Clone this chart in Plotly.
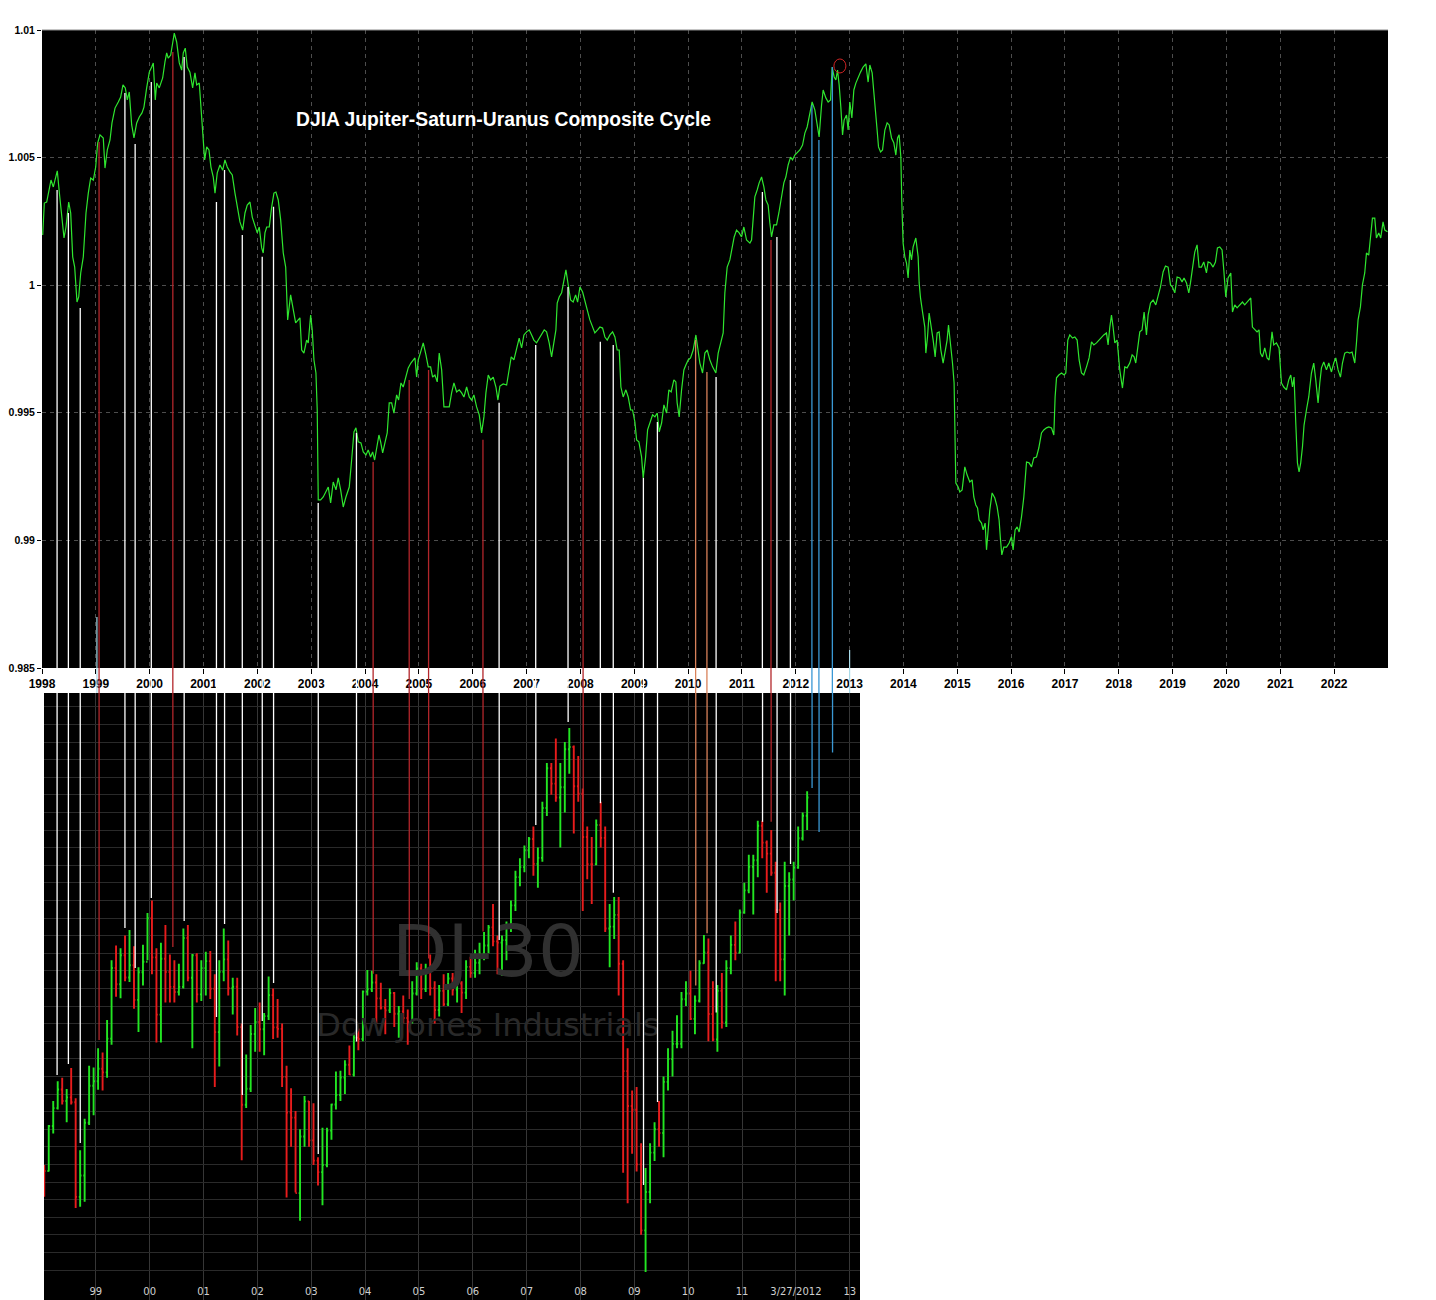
import plotly.graph_objects as go

W, H = 1436, 1300
OFF = 8  # the page body adds an 8px margin; layout positions are shifted to compensate

# ---- top panel: composite cycle, decimal year / index value ----
cycle_year = [
    1998.013, 1998.043, 1998.087, 1998.136, 1998.167, 1998.210, 1998.247, 1998.284, 1998.321, 1998.366,
    1998.409, 1998.446, 1998.496, 1998.533, 1998.570, 1998.607, 1998.650, 1998.682, 1998.719, 1998.767,
    1998.817, 1998.860, 1998.904, 1998.953, 1998.997, 1999.034, 1999.077, 1999.138, 1999.170, 1999.213,
    1999.263, 1999.300, 1999.356, 1999.417, 1999.461, 1999.504, 1999.547, 1999.584, 1999.621, 1999.666,
    1999.708, 1999.759, 1999.807, 1999.857, 1999.894, 1999.944, 1999.993, 2000.037, 2000.067, 2000.104,
    2000.130, 2000.178, 2000.241, 2000.284, 2000.316, 2000.345, 2000.390, 2000.427, 2000.457, 2000.501,
    2000.550, 2000.594, 2000.624, 2000.661, 2000.698, 2000.748, 2000.798, 2000.841, 2000.873, 2000.921,
    2000.953, 2000.995, 2001.021, 2001.059, 2001.101, 2001.138, 2001.181, 2001.213, 2001.255, 2001.305,
    2001.356, 2001.398, 2001.441, 2001.491, 2001.534, 2001.584, 2001.627, 2001.677, 2001.727, 2001.770,
    2001.812, 2001.863, 2001.905, 2001.955, 2001.998, 2002.035, 2002.080, 2002.109, 2002.141, 2002.173,
    2002.221, 2002.266, 2002.308, 2002.345, 2002.388, 2002.433, 2002.481, 2002.526, 2002.563, 2002.618,
    2002.667, 2002.711, 2002.791, 2002.823, 2002.865, 2002.915, 2002.945, 2002.990, 2003.019, 2003.051,
    2003.088, 2003.112, 2003.131, 2003.175, 2003.224, 2003.287, 2003.317, 2003.361, 2003.409, 2003.460,
    2003.502, 2003.547, 2003.595, 2003.645, 2003.707, 2003.751, 2003.794, 2003.831, 2003.874, 2003.924,
    2003.967, 2004.017, 2004.059, 2004.104, 2004.141, 2004.178, 2004.215, 2004.258, 2004.290, 2004.327,
    2004.369, 2004.412, 2004.449, 2004.494, 2004.537, 2004.587, 2004.624, 2004.667, 2004.709, 2004.760,
    2004.802, 2004.852, 2004.895, 2004.927, 2004.958, 2004.988, 2005.032, 2005.081, 2005.131, 2005.174,
    2005.218, 2005.255, 2005.298, 2005.341, 2005.378, 2005.423, 2005.465, 2005.564, 2005.608, 2005.651,
    2005.701, 2005.749, 2005.794, 2005.837, 2005.887, 2005.935, 2005.980, 2006.022, 2006.072, 2006.121,
    2006.165, 2006.208, 2006.245, 2006.288, 2006.332, 2006.381, 2006.431, 2006.468, 2006.505, 2006.566,
    2006.630, 2006.672, 2006.715, 2006.765, 2006.815, 2006.863, 2006.908, 2006.951, 2007.001, 2007.049,
    2007.094, 2007.136, 2007.186, 2007.235, 2007.279, 2007.328, 2007.372, 2007.420, 2007.465, 2007.508,
    2007.545, 2007.569, 2007.606, 2007.651, 2007.694, 2007.731, 2007.774, 2007.818, 2007.866, 2007.911,
    2007.948, 2007.991, 2008.041, 2008.084, 2008.127, 2008.176, 2008.226, 2008.269, 2008.319, 2008.362,
    2008.412, 2008.455, 2008.498, 2008.548, 2008.598, 2008.641, 2008.683, 2008.721, 2008.752, 2008.795,
    2008.845, 2008.888, 2008.932, 2008.969, 2009.012, 2009.044, 2009.086, 2009.136, 2009.166, 2009.211,
    2009.248, 2009.291, 2009.341, 2009.384, 2009.427, 2009.464, 2009.508, 2009.551, 2009.601, 2009.643,
    2009.686, 2009.736, 2009.773, 2009.797, 2009.835, 2009.879, 2009.922, 2009.959, 2010.002, 2010.046,
    2010.095, 2010.145, 2010.188, 2010.219, 2010.269, 2010.312, 2010.355, 2010.405, 2010.455, 2010.516,
    2010.559, 2010.604, 2010.652, 2010.683, 2010.726, 2010.776, 2010.819, 2010.856, 2010.900, 2010.949,
    2010.993, 2011.036, 2011.086, 2011.148, 2011.179, 2011.209, 2011.240, 2011.283, 2011.320, 2011.365,
    2011.408, 2011.445, 2011.487, 2011.519, 2011.550, 2011.593, 2011.643, 2011.686, 2011.736, 2011.779,
    2011.816, 2011.859, 2011.903, 2011.940, 2011.983, 2012.044, 2012.076, 2012.126, 2012.169, 2012.212,
    2012.262, 2012.304, 2012.354, 2012.397, 2012.434, 2012.479, 2012.509, 2012.559, 2012.602, 2012.646,
    2012.676, 2012.713, 2012.745, 2012.776, 2012.806, 2012.837, 2012.869, 2012.898, 2012.943, 2012.973,
    2013.004, 2013.042, 2013.079, 2013.116, 2013.159, 2013.203, 2013.251, 2013.302, 2013.344, 2013.376,
    2013.419, 2013.450, 2013.482, 2013.511, 2013.537, 2013.575, 2013.612, 2013.655, 2013.697, 2013.735,
    2013.779, 2013.822, 2013.859, 2013.891, 2013.920, 2013.952, 2013.970, 2013.994, 2014.026, 2014.057,
    2014.087, 2014.119, 2014.150, 2014.180, 2014.230, 2014.273, 2014.292, 2014.317, 2014.355, 2014.397,
    2014.416, 2014.447, 2014.477, 2014.522, 2014.552, 2014.589, 2014.626, 2014.663, 2014.695, 2014.737,
    2014.774, 2014.811, 2014.837, 2014.874, 2014.911, 2014.941, 2014.960, 2014.973, 2015.016, 2015.047,
    2015.090, 2015.140, 2015.183, 2015.233, 2015.276, 2015.307, 2015.344, 2015.376, 2015.406, 2015.450,
    2015.480, 2015.517, 2015.543, 2015.573, 2015.604, 2015.647, 2015.697, 2015.740, 2015.777, 2015.803,
    2015.827, 2015.864, 2015.915, 2015.963, 2016.007, 2016.037, 2016.074, 2016.112, 2016.149, 2016.193,
    2016.236, 2016.286, 2016.334, 2016.379, 2016.421, 2016.471, 2016.514, 2016.564, 2016.607, 2016.657,
    2016.700, 2016.750, 2016.793, 2016.817, 2016.843, 2016.886, 2016.936, 2016.984, 2017.016, 2017.053,
    2017.090, 2017.140, 2017.183, 2017.226, 2017.263, 2017.307, 2017.350, 2017.400, 2017.448, 2017.493,
    2017.536, 2017.586, 2017.634, 2017.679, 2017.721, 2017.771, 2017.801, 2017.833, 2017.864, 2017.894,
    2017.926, 2017.968, 2018.018, 2018.068, 2018.111, 2018.154, 2018.204, 2018.247, 2018.284, 2018.315,
    2018.358, 2018.390, 2018.432, 2018.470, 2018.514, 2018.544, 2018.589, 2018.637, 2018.687, 2018.730,
    2018.774, 2018.823, 2018.867, 2018.916, 2018.960, 2018.997, 2019.040, 2019.083, 2019.133, 2019.175,
    2019.212, 2019.257, 2019.300, 2019.331, 2019.368, 2019.411, 2019.454, 2019.491, 2019.535, 2019.578,
    2019.628, 2019.658, 2019.702, 2019.751, 2019.795, 2019.832, 2019.875, 2019.918, 2019.950, 2019.987,
    2020.029, 2020.080, 2020.111, 2020.154, 2020.197, 2020.247, 2020.297, 2020.339, 2020.382, 2020.419,
    2020.451, 2020.482, 2020.525, 2020.568, 2020.605, 2020.631, 2020.668, 2020.711, 2020.754, 2020.791,
    2020.822, 2020.846, 2020.878, 2020.928, 2020.977, 2021.021, 2021.064, 2021.114, 2021.157, 2021.194,
    2021.226, 2021.255, 2021.287, 2021.318, 2021.348, 2021.379, 2021.411, 2021.441, 2021.485, 2021.528,
    2021.578, 2021.621, 2021.658, 2021.701, 2021.733, 2021.764, 2021.807, 2021.857, 2021.900, 2021.950,
    2021.993, 2022.030, 2022.073, 2022.117, 2022.154, 2022.197, 2022.240, 2022.290, 2022.333, 2022.383,
    2022.414, 2022.444, 2022.488, 2022.525, 2022.568, 2022.600, 2022.642, 2022.674, 2022.711, 2022.754,
    2022.785, 2022.828, 2022.865, 2022.908, 2022.940, 2022.990,
]
cycle_value = [
    1.00197, 1.00322, 1.00326, 1.00373, 1.00412, 1.00385, 1.00424, 1.00448, 1.00365, 1.00283,
    1.00185, 1.00228, 1.00326, 1.00283, 1.00111, 1.00071, 0.99934, 0.99954, 1.00048, 1.00111,
    1.00283, 1.00361, 1.00420, 1.00412, 1.00463, 1.00557, 1.00589, 1.00577, 1.00459, 1.00530,
    1.00569, 1.00636, 1.00694, 1.00718, 1.00737, 1.00785, 1.00773, 1.00726, 1.00757, 1.00628,
    1.00577, 1.00636, 1.00659, 1.00675, 1.00698, 1.00773, 1.00835, 1.00855, 1.00871, 1.00726,
    1.00792, 1.00773, 1.00812, 1.00875, 1.00910, 1.00890, 1.00902, 1.00949, 1.00988, 1.00953,
    1.00871, 1.00843, 1.00910, 1.00929, 1.00855, 1.00835, 1.00773, 1.00832, 1.00785, 1.00792,
    1.00698, 1.00569, 1.00491, 1.00542, 1.00530, 1.00463, 1.00424, 1.00361, 1.00440, 1.00471,
    1.00451, 1.00491, 1.00463, 1.00444, 1.00432, 1.00361, 1.00307, 1.00248, 1.00216, 1.00283,
    1.00314, 1.00326, 1.00267, 1.00228, 1.00205, 1.00228, 1.00146, 1.00126, 1.00205, 1.00228,
    1.00228, 1.00307, 1.00361, 1.00365, 1.00334, 1.00256, 1.00126, 1.00071, 0.99864, 0.99962,
    0.99903, 0.99852, 0.99872, 0.99746, 0.99734, 0.99785, 0.99774, 0.99883, 0.99825, 0.99707,
    0.99656, 0.99511, 0.99159, 0.99159, 0.99170, 0.99198, 0.99209, 0.99147, 0.99229, 0.99198,
    0.99245, 0.99198, 0.99131, 0.99170, 0.99209, 0.99315, 0.99425, 0.99441, 0.99386, 0.99382,
    0.99347, 0.99335, 0.99354, 0.99327, 0.99347, 0.99315, 0.99366, 0.99413, 0.99386, 0.99343,
    0.99382, 0.99421, 0.99539, 0.99539, 0.99499, 0.99570, 0.99550, 0.99617, 0.99601, 0.99640,
    0.99676, 0.99695, 0.99707, 0.99715, 0.99640, 0.99707, 0.99738, 0.99774, 0.99727, 0.99680,
    0.99680, 0.99640, 0.99648, 0.99621, 0.99734, 0.99668, 0.99523, 0.99523, 0.99578, 0.99617,
    0.99582, 0.99590, 0.99578, 0.99562, 0.99601, 0.99562, 0.99550, 0.99570, 0.99523, 0.99492,
    0.99421, 0.99484, 0.99578, 0.99648, 0.99629, 0.99640, 0.99601, 0.99550, 0.99605, 0.99613,
    0.99609, 0.99668, 0.99719, 0.99707, 0.99758, 0.99793, 0.99754, 0.99805, 0.99817, 0.99825,
    0.99805, 0.99785, 0.99774, 0.99793, 0.99805, 0.99825, 0.99817, 0.99774, 0.99719, 0.99785,
    0.99825, 0.99930, 0.99954, 0.99970, 1.00021, 1.00060, 1.00001, 0.99942, 0.99934, 0.99962,
    0.99934, 0.99993, 0.99973, 0.99942, 0.99903, 0.99864, 0.99836, 0.99813, 0.99825, 0.99836,
    0.99832, 0.99797, 0.99785, 0.99805, 0.99817, 0.99797, 0.99746, 0.99746, 0.99601, 0.99562,
    0.99590, 0.99562, 0.99511, 0.99511, 0.99464, 0.99394, 0.99386, 0.99327, 0.99245, 0.99327,
    0.99433, 0.99464, 0.99492, 0.99484, 0.99499, 0.99425, 0.99460, 0.99531, 0.99499, 0.99590,
    0.99582, 0.99629, 0.99621, 0.99539, 0.99484, 0.99590, 0.99668, 0.99687, 0.99707, 0.99715,
    0.99746, 0.99805, 0.99746, 0.99695, 0.99656, 0.99734, 0.99746, 0.99707, 0.99680, 0.99656,
    0.99734, 0.99774, 0.99813, 0.99970, 1.00071, 1.00099, 1.00150, 1.00189, 1.00216, 1.00205,
    1.00189, 1.00228, 1.00177, 1.00165, 1.00177, 1.00267, 1.00346, 1.00373, 1.00401, 1.00424,
    1.00385, 1.00334, 1.00314, 1.00244, 1.00189, 1.00236, 1.00236, 1.00283, 1.00342, 1.00401,
    1.00424, 1.00471, 1.00502, 1.00491, 1.00510, 1.00522, 1.00530, 1.00549, 1.00596, 1.00620,
    1.00675, 1.00718, 1.00687, 1.00620, 1.00581, 1.00706, 1.00765, 1.00734, 1.00718, 1.00726,
    1.00855, 1.00816, 1.00804, 1.00843, 1.00785, 1.00698, 1.00589, 1.00647, 1.00667, 1.00608,
    1.00718, 1.00655, 1.00765, 1.00792, 1.00816, 1.00835, 1.00855, 1.00867, 1.00796, 1.00863,
    1.00832, 1.00765, 1.00694, 1.00608, 1.00542, 1.00522, 1.00530, 1.00608, 1.00636, 1.00628,
    1.00577, 1.00557, 1.00510, 1.00577, 1.00589, 1.00502, 1.00322, 1.00165, 1.00111, 1.00087,
    1.00028, 1.00138, 1.00099, 1.00150, 1.00185, 1.00111, 1.00009, 0.99950, 0.99895, 0.99836,
    0.99734, 0.99797, 0.99891, 0.99836, 0.99785, 0.99719, 0.99813, 0.99817, 0.99746, 0.99695,
    0.99734, 0.99785, 0.99844, 0.99774, 0.99695, 0.99617, 0.99421, 0.99225, 0.99209, 0.99190,
    0.99198, 0.99288, 0.99256, 0.99229, 0.99237, 0.99170, 0.99139, 0.99127, 0.99080, 0.99068,
    0.99041, 0.99068, 0.98963, 0.99041, 0.99119, 0.99186, 0.99166, 0.99131, 0.99080, 0.99002,
    0.98943, 0.98974, 0.98974, 0.98990, 0.99014, 0.98963, 0.99041, 0.99053, 0.99033, 0.99092,
    0.99170, 0.99307, 0.99304, 0.99288, 0.99323, 0.99327, 0.99362, 0.99421, 0.99433, 0.99441,
    0.99445, 0.99441, 0.99413, 0.99562, 0.99637, 0.99648, 0.99656, 0.99648, 0.99656, 0.99785,
    0.99805, 0.99793, 0.99797, 0.99785, 0.99707, 0.99656, 0.99648, 0.99680, 0.99715, 0.99778,
    0.99766, 0.99774, 0.99785, 0.99797, 0.99805, 0.99813, 0.99766, 0.99836, 0.99883, 0.99836,
    0.99774, 0.99785, 0.99668, 0.99597, 0.99680, 0.99676, 0.99695, 0.99727, 0.99719, 0.99695,
    0.99754, 0.99817, 0.99825, 0.99895, 0.99805, 0.99883, 0.99930, 0.99942, 0.99923, 0.99954,
    0.99993, 1.00052, 1.00075, 1.00071, 1.00001, 0.99993, 0.99970, 1.00032, 1.00028, 1.00013,
    1.00028, 1.00009, 0.99970, 1.00009, 1.00060, 1.00130, 1.00158, 1.00071, 1.00071, 1.00091,
    1.00048, 1.00091, 1.00087, 1.00071, 1.00091, 1.00146, 1.00150, 1.00138, 1.00060, 0.99954,
    1.00028, 1.00048, 0.99895, 0.99923, 0.99911, 0.99923, 0.99934, 0.99923, 0.99934, 0.99942,
    0.99950, 0.99836, 0.99825, 0.99817, 0.99825, 0.99734, 0.99719, 0.99754, 0.99715, 0.99707,
    0.99766, 0.99817, 0.99766, 0.99774, 0.99754, 0.99617, 0.99601, 0.99590, 0.99629, 0.99648,
    0.99601, 0.99640, 0.99460, 0.99304, 0.99268, 0.99304, 0.99366, 0.99452, 0.99511, 0.99562,
    0.99656, 0.99695, 0.99629, 0.99539, 0.99617, 0.99676, 0.99699, 0.99668, 0.99695, 0.99660,
    0.99695, 0.99715, 0.99668, 0.99640, 0.99695, 0.99734, 0.99738, 0.99734, 0.99738, 0.99695,
    0.99774, 0.99864, 0.99915, 1.00001, 1.00048, 1.00126, 1.00118, 1.00177, 1.00263, 1.00263,
    1.00185, 1.00205, 1.00185, 1.00248, 1.00216, 1.00209,
]

# ---- bottom panel: DJIA monthly bars, Jan 1998 .. Mar 2012 ----
dj_open = [
    7908, 7907, 8546, 8800, 9063, 8900, 8952, 8883, 7539, 7843, 8592, 9117,
    9181, 9359, 9307, 9786, 10789, 10560, 10971, 10655, 10829, 10337, 10730, 10878,
    11497, 10941, 10128, 10922, 10734, 10522, 10448, 10522, 11215, 10651, 10971, 10415,
    10788, 10887, 10495, 9879, 10735, 10912, 10502, 10523, 9950, 8848, 9075, 9852,
    10022, 9920, 10106, 10404, 9946, 9925, 9243, 8737, 8664, 7592, 8397, 8896,
    8342, 8054, 7891, 7992, 8480, 8850, 8985, 9234, 9416, 9275, 9801, 9782,
    10454, 10488, 10584, 10358, 10226, 10188, 10435, 10140, 10174, 10080, 10027, 10428,
    10783, 10490, 10766, 10504, 10193, 10467, 10275, 10641, 10482, 10569, 10440, 10806,
    10718, 10865, 10993, 11109, 11367, 11168, 11150, 11186, 11381, 11679, 12081, 12222,
    12463, 12622, 12269, 12354, 13063, 13628, 13409, 13212, 13358, 13896, 13930, 13372,
    13265, 12650, 12266, 12263, 12820, 12638, 11350, 11378, 11544, 10851, 9325, 8829,
    8776, 8001, 7063, 7609, 8168, 8500, 8447, 9172, 9496, 9712, 9713, 10345,
    10428, 10067, 10325, 10857, 11009, 10137, 9774, 10466, 10015, 10788, 11118, 11006,
    11578, 11892, 12226, 12320, 12811, 12570, 12414, 12143, 11614, 10913, 11955, 12046,
    12218, 12633, 12952,
]
dj_high = [
    7990, 8560, 8900, 9180, 9230, 9070, 9368, 8940, 8200, 8650, 9400, 9375,
    9650, 9590, 10050, 10900, 11110, 11070, 11250, 11330, 11100, 10800, 11120, 11570,
    11750, 11070, 11150, 11400, 10980, 10900, 10850, 11350, 11400, 10990, 11000, 10900,
    11020, 11030, 10700, 10900, 11350, 11180, 10650, 10650, 10000, 9560, 9980, 10220,
    10300, 10150, 10670, 10500, 10350, 10000, 9400, 9080, 8760, 8500, 8970, 8900,
    8870, 8100, 8520, 8520, 8860, 9320, 9330, 9480, 9690, 9860, 9930, 10470,
    10760, 10750, 10700, 10580, 10350, 10500, 10450, 10250, 10400, 10200, 10600, 10870,
    10850, 10850, 10980, 10600, 10550, 10700, 10720, 10720, 10700, 10600, 10900, 10950,
    11050, 11150, 11300, 11400, 11700, 11250, 11250, 11450, 11750, 12170, 12350, 12530,
    12650, 12800, 12500, 13150, 13700, 13700, 14050, 13700, 14000, 14200, 13950, 13800,
    13340, 12800, 12650, 12900, 13150, 12800, 11700, 11800, 11800, 10900, 9650, 9050,
    9100, 8300, 7950, 8300, 8600, 8900, 9250, 9650, 9900, 10120, 10450, 10600,
    10750, 10400, 10900, 11260, 11210, 10600, 10550, 10720, 10900, 11250, 11450, 11620,
    12000, 12400, 12400, 12880, 12880, 12600, 12750, 12300, 11720, 12300, 12150, 12300,
    12800, 13000, 13300,
]
dj_low = [
    7540, 7900, 8440, 8780, 8850, 8600, 8850, 7380, 7400, 7470, 8560, 8700,
    9060, 9050, 9230, 9700, 10380, 10360, 10600, 10590, 10210, 9880, 10540, 10900,
    10700, 9730, 9730, 10300, 10300, 10300, 10400, 10500, 10600, 9650, 10300, 10320,
    10400, 10350, 9100, 9390, 10600, 10400, 10130, 9830, 8060, 8800, 9030, 9600,
    9600, 9550, 10050, 9780, 9800, 9100, 7530, 8250, 7600, 7200, 8250, 8250,
    7990, 7700, 7420, 7960, 8350, 8780, 8900, 9000, 9270, 9250, 9620, 9750,
    10400, 10450, 10000, 10200, 9850, 10150, 9950, 9800, 10000, 9700, 10000, 10400,
    10350, 10450, 10400, 10000, 10100, 10250, 10250, 10400, 10300, 10150, 10350, 10650,
    10650, 10700, 10900, 11000, 11100, 10700, 10680, 10900, 11300, 11600, 11950, 12150,
    12350, 12100, 11930, 12300, 12950, 13250, 13150, 12500, 13000, 13550, 12700, 13150,
    11600, 12050, 11700, 12250, 12500, 11300, 10800, 11200, 10400, 7880, 7450, 8150,
    7900, 7000, 6470, 7450, 8050, 8250, 8100, 9050, 9250, 9650, 9650, 10250,
    10050, 9850, 10300, 10850, 9750, 9750, 9600, 9930, 9950, 10700, 10900, 11000,
    11560, 11850, 11550, 12080, 12350, 11860, 12100, 10600, 10600, 10400, 11250, 11750,
    12200, 12600, 12750,
]
dj_close = [
    7907, 8546, 8800, 9063, 8900, 8952, 8883, 7539, 7843, 8592, 9117, 9181,
    9359, 9307, 9786, 10789, 10560, 10971, 10655, 10829, 10337, 10730, 10878, 11497,
    10941, 10128, 10922, 10734, 10522, 10448, 10522, 11215, 10651, 10971, 10415, 10788,
    10887, 10495, 9879, 10735, 10912, 10502, 10523, 9950, 8848, 9075, 9852, 10022,
    9920, 10106, 10404, 9946, 9925, 9243, 8737, 8664, 7592, 8397, 8896, 8342,
    8054, 7891, 7992, 8480, 8850, 8985, 9234, 9416, 9275, 9801, 9782, 10454,
    10488, 10584, 10358, 10226, 10188, 10435, 10140, 10174, 10080, 10027, 10428, 10783,
    10490, 10766, 10504, 10193, 10467, 10275, 10641, 10482, 10569, 10440, 10806, 10718,
    10865, 10993, 11109, 11367, 11168, 11150, 11186, 11381, 11679, 12081, 12222, 12463,
    12622, 12269, 12354, 13063, 13628, 13409, 13212, 13358, 13896, 13930, 13372, 13265,
    12650, 12266, 12263, 12820, 12638, 11350, 11378, 11544, 10851, 9325, 8829, 8776,
    8001, 7063, 7609, 8168, 8500, 8447, 9172, 9496, 9712, 9713, 10345, 10428,
    10067, 10325, 10857, 11009, 10137, 9774, 10466, 10015, 10788, 11118, 11006, 11578,
    11892, 12226, 12320, 12811, 12570, 12414, 12143, 11614, 10913, 11955, 12046, 12218,
    12633, 12952, 13212,
]
bar_months = [(y, m) for y in range(1998, 2013) for m in range(1, 13)][:len(dj_close)]

# ---- turning-point markers: date, colour, cycle level, DJIA level ----
mark_year = [
    1998.28, 1998.49, 1998.71, 1999.06, 1999.54, 1999.73, 2000.03, 2000.43, 2000.64, 2001.24,
    2001.39, 2001.72, 2002.09, 2002.30, 2003.13, 2003.84, 2004.15, 2004.82, 2005.18, 2006.19,
    2006.49, 2007.17, 2007.77, 2008.05, 2008.37, 2008.61, 2009.17, 2009.43, 2010.14, 2010.35,
    2010.52, 2011.38, 2011.54, 2011.65, 2011.90, 2012.30, 2012.43, 2012.68,
]
mark_kind = [
    "w", "w", "w", "r", "w", "w", "w", "r", "w", "w",
    "w", "w", "w", "w", "w", "w", "r", "r", "r", "r",
    "w", "w", "w", "r", "w", "w", "w", "w", "o", "o",
    "w", "w", "r", "w", "w", "b", "b", "b",
]
mark_cycle = [
    1.00373, 1.00283, 0.99911, 1.00561, 1.00753, 1.00553, 1.00796, 1.00914, 1.00894, 1.00326,
    1.00451, 1.00197, 1.00111, 1.00307, 0.99147, 0.99421, 0.99307, 0.99629, 0.99668, 0.99394,
    0.99539, 0.99766, 0.99993, 0.99903, 0.99778, 0.99766, 0.99245, 0.99464, 0.99785, 0.99660,
    0.99640, 1.00365, 1.00177, 1.00189, 1.00412, 1.00706, 1.00569, 1.00855,
]
mark_price = [
    9270, 9426, 8304, 9767, 11358, 10790, 11784, 11088, 11457, 10094,
    11415, 8986, 10037, 10577, 8148, 9747, 10707, 10348, 10923, 11307,
    11188, 12820, 14283, 12866, 13131, 11859, 7707, 8886, 10540, 11284,
    10156, 12866, 12866, 11571, 12267, 13347, 12723, 13851,
]
# short "today" stubs at the axis
stub_year = [1999.02, 2013.00]
stub_cycle = [0.98700, 0.98571]
# circled peak
peak_year, peak_value = 2012.82, 1.00859

top_ticks = list(range(1998, 2023))
y_ticks = [0.985, 0.99, 0.995, 1.0, 1.005, 1.01]
y_tick_text = ["0.985", "0.99", "0.995", "1", "1.005", "1.01"]
bottom_ticks = list(range(1999, 2014))
bottom_tick_text = ["99", "00", "01", "02", "03", "04", "05", "06", "07", "08",
                    "09", "10", "11", "3/27/2012", "13"]

X_RANGE = [1998.0, 2023.0]
Y_RANGE = [0.985, 1.01]
X2_RANGE = [1998.037, 2013.19]
Y2_RANGE = [6074, 14696]


def px_x(p):
    return (p - OFF) / W


def px_y(p):
    return 1 - (p - OFF) / H


TOP_DOM = [px_y(668), px_y(30)]
BOT_DOM = [px_y(1300), px_y(693)]

COLORS = {"w": "#ffffff", "r": "#b3262b", "o": "#d9825a", "b": "#3a98d4", "c": "#a9dbe9"}

fig = go.Figure()

# watermark behind the bars
wm_x = X2_RANGE[0] + 0.544 * (X2_RANGE[1] - X2_RANGE[0])
span2 = Y2_RANGE[1] - Y2_RANGE[0]
fig.add_trace(go.Scatter(
    x=[wm_x, wm_x],
    y=[Y2_RANGE[0] + 0.563 * span2, Y2_RANGE[0] + 0.448 * span2],
    mode="text", text=["DJ-30", "Dow Jones Industrials"],
    textfont=dict(family="DejaVu Sans", size=[72, 32], color=["#303030", "#292929"]),
    xaxis="x2", yaxis="y2", hoverinfo="skip", showlegend=False,
))

fig.add_trace(go.Ohlc(
    x=[y + (m - 0.5) / 12 for y, m in bar_months],
    open=dj_open, high=dj_high, low=dj_low, close=dj_close,
    increasing_line_color="#22e622", decreasing_line_color="#e81c1c",
    line_width=1.9, tickwidth=0.3,
    xaxis="x2", yaxis="y2", showlegend=False,
))

fig.add_trace(go.Scatter(
    x=cycle_year, y=cycle_value, mode="lines",
    line=dict(color="#2fe62f", width=1.2),
    xaxis="x", yaxis="y", showlegend=False,
))

shapes = []
for d, k, top, low in zip(mark_year, mark_kind, mark_cycle, mark_price):
    ln = dict(color=COLORS[k], width=1.3)
    shapes.append(dict(type="line", xref="x", yref="y", x0=d, x1=d, y0=top, y1=Y_RANGE[0], line=ln))
    shapes.append(dict(type="line", xref="x", yref="paper", x0=d, x1=d,
                       y0=BOT_DOM[1], y1=TOP_DOM[0], line=ln))
    shapes.append(dict(type="line", xref="x2", yref="y2", x0=d, x1=d,
                       y0=Y2_RANGE[1], y1=low, line=ln))
for d, top in zip(stub_year, stub_cycle):
    ln = dict(color=COLORS["c"], width=1.2)
    shapes.append(dict(type="line", xref="x", yref="y", x0=d, x1=d, y0=top, y1=Y_RANGE[0], line=ln))
    shapes.append(dict(type="line", xref="x", yref="paper", x0=d, x1=d,
                       y0=BOT_DOM[1], y1=TOP_DOM[0], line=ln))
shapes.append(dict(type="circle", xref="x", yref="y", xsizemode="pixel", ysizemode="pixel",
                   xanchor=peak_year, yanchor=peak_value, x0=-6, x1=6, y0=-7, y1=7,
                   line=dict(color="#d02424", width=1)))
# solid top edge of the cycle panel
shapes.append(dict(type="line", xref="paper", yref="paper", x0=px_x(42), x1=px_x(1388),
                   y0=TOP_DOM[1], y1=TOP_DOM[1], line=dict(color="#8a8a8a", width=1)))

x_tick_font = dict(family="Liberation Sans", size=12, color="#000000", weight="bold")
y_tick_font = dict(family="Liberation Sans", size=10.5, color="#000000", weight="bold")

fig.update_layout(
    width=W, height=H, template="none",
    paper_bgcolor="#ffffff", plot_bgcolor="#000000",
    margin=dict(l=0, r=0, t=0, b=0, pad=0),
    showlegend=False,
    shapes=shapes,
    xaxis=dict(
        domain=[px_x(42), px_x(1388)], range=X_RANGE, anchor="y",
        tickmode="array", tickvals=top_ticks, ticktext=[str(t) for t in top_ticks],
        ticks="outside", ticklen=5, tickcolor="#000000", tickfont=x_tick_font,
        showgrid=True, gridcolor="#4d4d4d", griddash="4px,4px", gridwidth=1,
        zeroline=False, showline=False, automargin=False,
    ),
    yaxis=dict(
        domain=TOP_DOM, range=Y_RANGE, anchor="x",
        tickmode="array", tickvals=y_ticks, ticktext=y_tick_text,
        ticks="outside", ticklen=4, tickcolor="#000000", tickfont=y_tick_font,
        showgrid=True, gridcolor="#4d4d4d", griddash="4px,4px", gridwidth=1,
        zeroline=False, showline=False, automargin=False,
    ),
    xaxis2=dict(
        domain=[px_x(44), px_x(860)], range=X2_RANGE, anchor="y2",
        tickmode="array", tickvals=bottom_ticks, ticktext=bottom_tick_text,
        ticklabelposition="inside", ticks="",
        tickfont=dict(family="DejaVu Sans", size=10, color="#cfcfcf"),
        showgrid=True, gridcolor="#363636", gridwidth=1,
        zeroline=False, showline=False, automargin=False,
        rangeslider=dict(visible=False),
    ),
    yaxis2=dict(
        domain=BOT_DOM, range=Y2_RANGE, anchor="x2",
        tick0=0, dtick=250, showticklabels=False, ticks="",
        showgrid=True, gridcolor="#2a2a2a", gridwidth=1,
        zeroline=False, showline=False, automargin=False,
    ),
    annotations=[dict(
        text="DJIA Jupiter-Saturn-Uranus Composite Cycle",
        xref="paper", yref="paper", x=px_x(503), y=px_y(120),
        xanchor="center", yanchor="middle", showarrow=False,
        font=dict(family="Liberation Sans", size=19.3, color="#ffffff", weight="bold"),
    )],
)

fig.write_html("out.html")
